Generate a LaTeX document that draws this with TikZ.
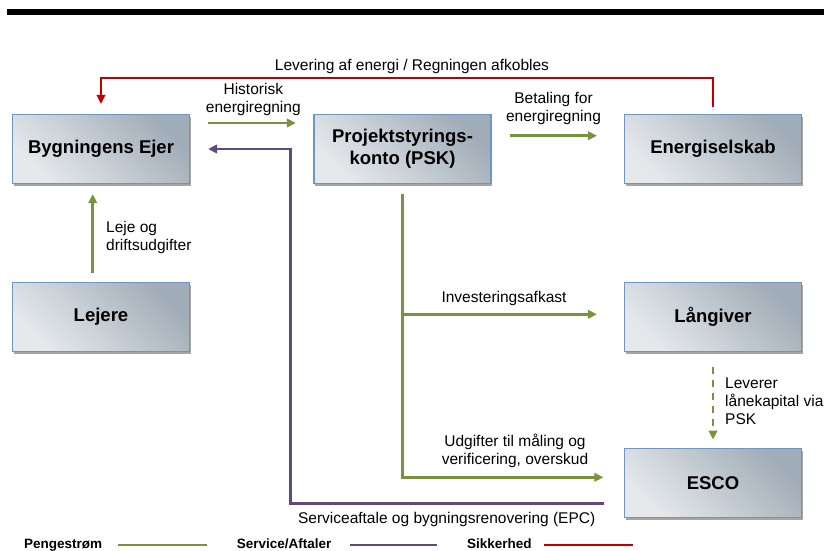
\documentclass[tikz,border=0pt]{standalone}
\usepackage{fontspec}
\setmainfont{Liberation Sans}
\usetikzlibrary{arrows.meta,shadows}

\definecolor{moneygreen}{HTML}{77933C}
\definecolor{servicepurple}{HTML}{604A7B}
\definecolor{securityred}{HTML}{C00000}
\definecolor{boxedge}{HTML}{6F95C8}
\definecolor{boxdark}{HTML}{A0ACB7}
\definecolor{boxlight}{HTML}{E6E9EC}

\tikzset{
  actor/.style={draw=boxedge, line width=1.2pt,
    minimum width=177pt, minimum height=69pt, inner sep=2pt,
    top color=boxdark, bottom color=boxlight, shading angle=-45,
    drop shadow={shadow xshift=1.2pt, shadow yshift=-2.8pt, opacity=0.35, fill=black},
    align=center, font=\bfseries\fontsize{18.5}{22}\selectfont},
  flowlabel/.style={inner sep=0pt, align=center, font=\fontsize{15.5}{18}\selectfont},
  legendlabel/.style={inner sep=0pt, anchor=base west, font=\bfseries\fontsize{13.5}{16}\selectfont},
  tip/.style={-{Triangle[length=9pt,width=8.5pt]}},
  money/.style={draw=moneygreen, line width=2.6pt},
  service/.style={draw=servicepurple, line width=2.5pt},
  security/.style={draw=securityred, line width=2pt},
}

\begin{document}
\begin{tikzpicture}[x=1pt, y=-1pt]
  \useasboundingbox (0,0) rectangle (824,550);

  % heading rule
  \fill[black] (7,9.3) rectangle (824,15);

  % parties
  \node[actor] (ejer)      at (101,149)   {Bygningens Ejer};
  \node[actor] (psk)       at (402.5,149) {Projektstyrings-\\konto (PSK)};
  \node[actor] (energi)    at (713,149)   {Energiselskab};
  \node[actor] (lejere)    at (101,317)   {Lejere};
  \node[actor] (laangiver) at (713,317)   {Långiver};
  \node[actor] (esco)      at (713,483)   {ESCO};

  % helper coordinates for routed connectors
  \coordinate (redtop) at (0,77.5);
  \coordinate (svcx)   at (290.5,0);
  \coordinate (invest) at (psk.south |- laangiver.west);

  % energy supply (security)
  \draw[security, tip] ([yshift=7pt]energi.north) -- (energi.north |- redtop)
    -- (ejer.north |- redtop) -- ([yshift=10pt]ejer.north);
  \node[flowlabel, anchor=base] (lbllev) at (412,70.5)
    {Levering af energi / Regningen afkobles};

  % money flows (base anchor sits on the last line)
  \draw[money, tip] ([xshift=18pt,yshift=26pt]ejer.east) -- ([xshift=-17.5pt,yshift=26pt]psk.west);
  \node[flowlabel, anchor=base] (lblhist) at (253.3,112.7) {Historisk\\energiregning};

  \draw[money, tip] ([xshift=18pt,yshift=13.3pt]psk.east) -- ([xshift=-27pt,yshift=13.3pt]energi.west);
  \node[flowlabel, anchor=base] (lblbet) at (553.5,121.7) {Betaling for\\energiregning};

  \draw[money, tip] ([xshift=-8.3pt,yshift=9pt]lejere.north) -- ([xshift=-8.3pt,yshift=-10pt]ejer.south);
  \node[flowlabel, anchor=base west, align=left] (lblleje) at (106,250.7) {Leje og\\driftsudgifter};

  \draw[money, tip] ([yshift=-10pt]psk.south) |- ([xshift=-20.5pt,yshift=5.7pt]esco.west);
  \draw[money, tip] ([yshift=2.7pt]invest) -- ([xshift=-27pt,yshift=2.7pt]laangiver.west);
  \node[flowlabel, anchor=base] (lblinv) at (504,302.7) {Investeringsafkast};
  \node[flowlabel, anchor=base] (lbludg) at (515,464) {Udgifter til måling og\\verificering, overskud};

  \draw[money, tip, dash pattern=on 7pt off 6pt] ([yshift=-14.4pt]laangiver.south) -- ([yshift=8.3pt]esco.north);
  \node[flowlabel, anchor=base west, align=left] (lbllev2) at (725,424.5) {Leverer\\lånekapital via\\PSK};

  % service agreement
  \draw[service, tip] ([xshift=-19.5pt,yshift=-20.3pt]esco.west) -| (svcx |- ejer.east)
    -- ([xshift=18pt]ejer.east);
  \node[flowlabel, anchor=base] (lblsvc) at (446.7,523) {Serviceaftale og bygningsrenovering (EPC)};

  % legend
  \node[legendlabel] (legmoney) at (24,548) {Pengestrøm};
  \coordinate (lm1) at (118,545); \coordinate (lm2) at (207,545);
  \draw[money, line width=2.4pt] (lm1) -- (lm2);
  \node[legendlabel] (legsvc) at (236.7,548) {Service/Aftaler};
  \coordinate (ls1) at (350,545); \coordinate (ls2) at (437,545);
  \draw[service, line width=2.4pt] (ls1) -- (ls2);
  \node[legendlabel] (legsec) at (467,548) {Sikkerhed};
  \coordinate (lr1) at (544,545); \coordinate (lr2) at (632.5,545);
  \draw[security, line width=2.4pt] (lr1) -- (lr2);
\end{tikzpicture}
\end{document}
